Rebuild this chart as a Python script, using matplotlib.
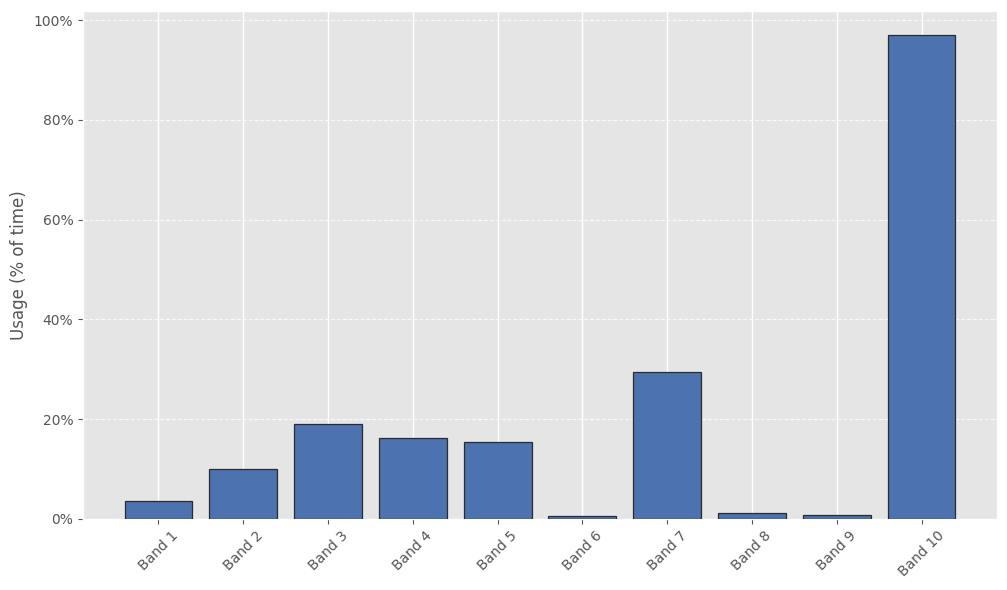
import matplotlib
matplotlib.use("Agg")
import matplotlib.pyplot as plt
from matplotlib.ticker import PercentFormatter

plt.style.use("ggplot")

# Band usage data (% of time)
bands = ["Band 1", "Band 2", "Band 3", "Band 4", "Band 5",
         "Band 6", "Band 7", "Band 8", "Band 9", "Band 10"]
usage = [3.7, 10.0, 19.0, 16.2, 15.4, 0.6, 29.4, 1.2, 0.8, 97.0]

fig, ax = plt.subplots(figsize=(10.07, 5.9), dpi=100)
ax.bar(bands, usage, color="#4C72B0", edgecolor="#2b2b2b", linewidth=0.9, zorder=3)

ax.set_ylabel("Usage (% of time)")
ax.yaxis.set_major_formatter(PercentFormatter(100, decimals=0))
ax.tick_params(axis="x", rotation=45)

ax.grid(axis="x", color="white", linestyle="-", linewidth=1.0)
ax.grid(axis="y", color="white", linestyle="--", linewidth=0.8, alpha=0.8)
ax.set_axisbelow(True)

fig.subplots_adjust(left=83 / 1007, right=997 / 1007, top=1 - 11 / 590, bottom=1 - 519 / 590)
plt.savefig("out.png", dpi=100)
plt.close()
